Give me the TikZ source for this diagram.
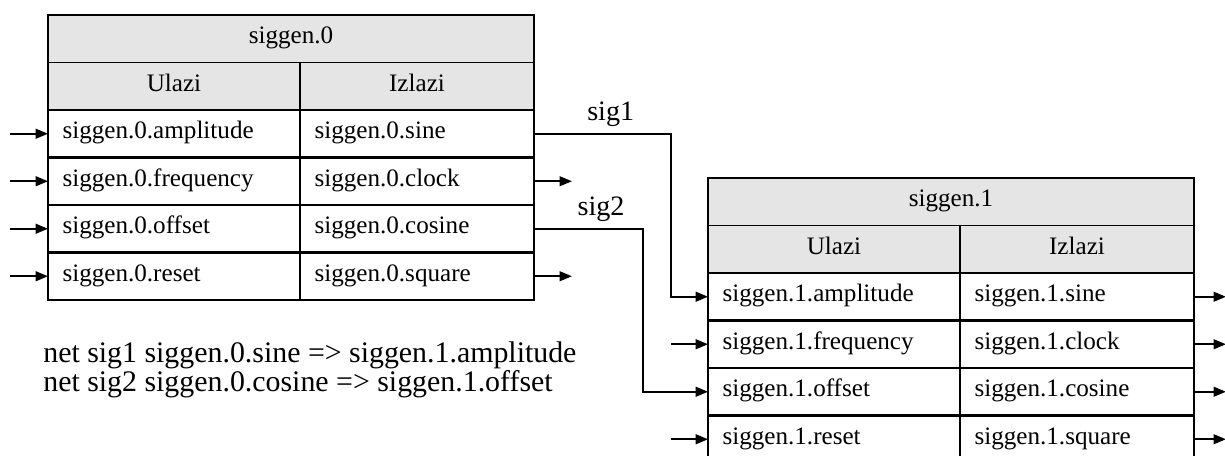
\documentclass[tikz,border=0pt]{standalone}
\usepackage{fontspec}
\setmainfont{Liberation Serif}
\usepackage{tikz}
\usetikzlibrary{arrows.meta}
\usepackage{xcolor}

\newcommand{\cellfont}{\fontsize{14.3}{17}\selectfont}
\tikzset{
  cellbase/.style={rectangle, outer sep=0pt, minimum height=0.95cm, inner xsep=0.29cm,
    text height=8.5pt, text depth=3pt, font=\cellfont},
  titlecell/.style={cellbase, draw, line width=0.9pt, fill=gray!20, minimum width=9.72cm},
  headcell/.style={cellbase, draw, line width=0.9pt, fill=gray!20},
  incell/.style={cellbase, draw, line width=1.5pt, text width=4.46cm, align=left},
  outcell/.style={cellbase, draw, line width=1.5pt, text width=4.10cm, align=left},
  sigline/.style={line width=1.1pt, -{Triangle[length=7pt,width=5.5pt]}},
  pinline/.style={line width=1.1pt, {Triangle[length=7pt,width=5.5pt]}-},
  siglabel/.style={font=\fontsize{16}{19}\selectfont},
  nettext/.style={font=\fontsize{17}{20}\selectfont, anchor=base west, inner sep=0pt}
}

\begin{document}
\begin{tikzpicture}[x=0.02cm, y=-0.02cm]
\useasboundingbox (0,0) rectangle (1225,456);
%%%TABLES
\foreach \gn/\sx/\sy in {0/0/0, 1/660/163}{
  \begin{scope}[shift={(\sx,\sy)}]
    \node[titlecell] (g\gn-title) at (291,38.75) {siggen.\gn};
    \node[headcell, minimum width=5.04cm] (g\gn-in) at (174,86.25) {Ulazi};
    \node[headcell, minimum width=4.68cm] (g\gn-out) at (417,86.25) {Izlazi};
    \foreach \i/\pin/\pout in {0/amplitude/sine, 1/frequency/clock, 2/offset/cosine, 3/reset/square}{
      \node[incell] (g\gn-\pin) at (174,133.75+47.5*\i) {siggen.\gn.\pin};
      \node[outcell] (g\gn-\pout) at (417,133.75+47.5*\i) {siggen.\gn.\pout};
    }
    \draw[line width=1.5pt] (g\gn-title.north west) rectangle (g\gn-square.south east);
  \end{scope}
}
%%%FREE PINS
\foreach \p in {amplitude,frequency,offset,reset}
  \draw[pinline] (g0-\p.west) -- ++(-38,0);
\foreach \p in {frequency,reset}
  \draw[pinline] (g1-\p.west) -- ++(-37,0);
\foreach \p in {clock,square}
  \draw[sigline] (g0-\p.east) -- ++(38,0);
\foreach \p in {sine,clock,cosine,square}
  \draw[sigline] (g1-\p.east) -- ++(32,0);
%%%SIGNALS
\draw[sigline] (g0-sine.east) -- ++(137,0) node[pos=0.56, above, siglabel] (sig1) {sig1} |- (g1-amplitude.west);
\draw[sigline] (g0-cosine.east) -- ++(109,0) node[pos=0.615, above, siglabel] (sig2) {sig2} |- (g1-offset.west);
%%%NETS
\node[nettext] (net1) at (43,362) {net sig1 siggen.0.sine => siggen.1.amplitude};
\node[nettext] (net2) at (43,391) {net sig2 siggen.0.cosine => siggen.1.offset};
\end{tikzpicture}
\end{document}
